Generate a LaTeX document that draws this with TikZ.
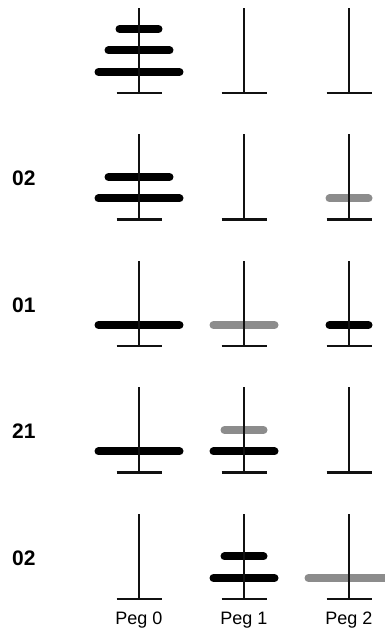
\documentclass[tikz,border=0pt]{standalone}
\usepackage{fontspec}
\setmainfont{Liberation Sans}
\usetikzlibrary{positioning}
\definecolor{diskGray}{HTML}{8C8C8C}
\definecolor{pegBlack}{HTML}{111111}

\begin{document}
\begin{tikzpicture}[x=1pt, y=1pt,
  peg/.style={line width=2.6pt, pegBlack},
  disk/.style={line width=8pt, line cap=round},
  movelbl/.style={font=\fontsize{21}{21}\selectfont\bfseries, inner sep=0pt, anchor=west},
  peglbl/.style={font=\fontsize{18}{18}\selectfont, inner sep=0pt, anchor=base}]
  \useasboundingbox (0,0) rectangle (385,632);
  \clip (0,0) rectangle (385,632);
  \def\ytop{539}
  \def\rowh{126.5}
  % disks: peg x / row / level / half length / colour
  \foreach \px/\r/\k/\w/\c in {139/0/0/40.5/black, 139/0/1/30.5/black, 139/0/2/19.5/black,
      139/1/0/40.5/black, 139/1/1/30.5/black, 349/1/0/19.5/diskGray,
      139/2/0/40.5/black, 244/2/0/30.5/diskGray, 349/2/0/19.5/black,
      139/3/0/40.5/black, 244/3/0/30.5/black, 244/3/1/19.5/diskGray,
      244/4/0/30.5/black, 244/4/1/19.5/black, 349/4/0/40.5/diskGray} {
    \pgfmathsetmacro\yd{\ytop-\rowh*\r+21+21.5*\k}
    \draw[disk, \c] (\px-\w,\yd) -- (\px+\w,\yd);
  }
  % pegs and bases
  \foreach \r in {0,...,4} {
    \foreach \px in {139,244,349} {
      \pgfmathsetmacro\yb{\ytop-\rowh*\r}
      \draw[peg] (\px,\yb) -- ++(0,85);
      \draw[peg] (\px-22.5,\yb) -- ++(45,0);
    }
  }
  % moves
  \foreach \r/\m in {1/02, 2/01, 3/21, 4/02} {
    \pgfmathsetmacro\yl{\ytop-\rowh*\r+41}
    \node[movelbl] (move\r) at (12,\yl) {\m};
  }
  % peg names
  \foreach \p/\px in {0/139, 1/244, 2/349} {
    \node[peglbl] (peg\p) at (\px,8) {Peg \p};
  }
\end{tikzpicture}
\end{document}
